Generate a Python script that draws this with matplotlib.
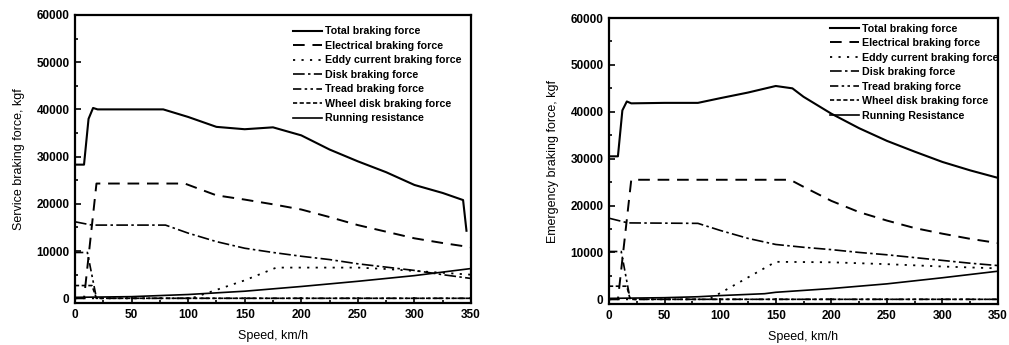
import matplotlib
matplotlib.use('Agg')
import matplotlib.pyplot as plt
from matplotlib.ticker import MultipleLocator

plt.rcParams['font.family'] = ['Liberation Sans', 'DejaVu Sans']

# ---------------------------------------------------------------------------
# Data (speed in km/h, force in kgf)
# ---------------------------------------------------------------------------

labels_service = ["Total braking force", "Electrical braking force",
                  "Eddy current braking force", "Disk braking force",
                  "Tread braking force", "Wheel disk braking force",
                  "Running resistance"]
labels_emergency = labels_service[:-1] + ["Running Resistance"]

# service braking
sv_total_x = [0, 8, 12, 16, 20, 50, 78, 100, 125, 150, 175, 200, 225, 250, 275, 300, 325, 343, 346]
sv_total_y = [28300, 28300, 38000, 40300, 40000, 40000, 40000, 38400, 36300, 35800, 36200, 34500,
              31500, 29000, 26700, 24000, 22300, 20800, 14300]
sv_elec_x = [0, 8, 19, 97, 125, 150, 175, 200, 225, 250, 275, 300, 325, 350]
sv_elec_y = [0, 0, 24300, 24300, 21800, 20900, 19900, 18800, 17200, 15500, 14100, 12700, 11700, 10800]
sv_eddy_x = [0, 103, 150, 178, 250, 275, 300, 325, 350]
sv_eddy_y = [0, 0, 3800, 6500, 6500, 6200, 5800, 5400, 5000]
sv_disk_x = [0, 15, 80, 100, 125, 150, 175, 200, 225, 250, 275, 300, 325, 350]
sv_disk_y = [16200, 15500, 15500, 13800, 12000, 10600, 9700, 8900, 8200, 7300, 6600, 5900, 5000, 4200]
sv_tread_x = [0, 11, 19, 350]
sv_tread_y = [9700, 9700, 0, 0]
sv_wheel_x = [0, 15, 19, 350]
sv_wheel_y = [2700, 2700, 0, 0]
sv_run_x = [0, 50, 100, 150, 200, 250, 300, 350]
sv_run_y = [200, 350, 800, 1500, 2500, 3600, 4800, 6300]

# emergency braking
em_total_x = [0, 8, 12, 16, 20, 50, 80, 100, 125, 150, 165, 175, 200, 225, 250, 275, 300, 325, 350]
em_total_y = [30500, 30500, 40300, 42200, 41800, 41900, 41900, 42900, 44100, 45500, 45000, 43200,
              39600, 36500, 33800, 31500, 29300, 27500, 25900]
em_elec_x = [0, 8, 20, 163, 175, 200, 225, 250, 275, 300, 325, 350]
em_elec_y = [0, 0, 25500, 25500, 24000, 21000, 18600, 16800, 15200, 14000, 12900, 12000]
em_eddy_x = [0, 90, 150, 200, 250, 300, 350]
em_eddy_y = [0, 0, 8000, 7900, 7500, 7000, 6600]
em_disk_x = [0, 17, 80, 100, 125, 150, 175, 200, 225, 250, 275, 300, 325, 350]
em_disk_y = [17300, 16300, 16200, 14700, 13000, 11700, 11100, 10600, 10000, 9500, 8900, 8300, 7700, 7200]
em_tread_x = [0, 11, 19, 350]
em_tread_y = [10200, 10200, 0, 0]
em_wheel_x = [0, 16, 19, 350]
em_wheel_y = [2800, 2800, 0, 0]
em_run_x = [0, 50, 80, 100, 140, 150, 200, 250, 300, 350]
em_run_y = [200, 350, 550, 800, 1200, 1500, 2300, 3300, 4600, 6000]

# ---------------------------------------------------------------------------
# Styles
# ---------------------------------------------------------------------------

styles = [
    dict(ls='-', lw=1.5),
    dict(ls=(0, (6, 4)), lw=1.4),
    dict(ls=(0, (1.2, 3.5)), lw=1.3),
    dict(ls=(0, (7, 2, 1.5, 2)), lw=1.2),
    dict(ls=(0, (5, 2, 1.5, 2, 1.5, 2)), lw=1.2),
    dict(ls=(0, (2.5, 1.5)), lw=1.2),
    dict(ls='-', lw=1.2),
]


def draw_panel(ax, series, labels, ylabel, legend_anchor):
    for (x, y), lab, st in zip(series, labels, styles):
        ax.plot(x, y, color='black', label=lab, **st)
    ax.set_xlim(0, 350)
    ax.set_ylim(-1000, 60000)
    ax.xaxis.set_major_locator(MultipleLocator(50))
    ax.xaxis.set_minor_locator(MultipleLocator(25))
    ax.yaxis.set_major_locator(MultipleLocator(10000))
    ax.yaxis.set_minor_locator(MultipleLocator(5000))
    ax.tick_params(which='both', direction='in', width=1.2)
    ax.tick_params(which='major', length=4, labelsize=8.5, pad=4)
    ax.tick_params(which='minor', length=2.5)
    for t in ax.get_xticklabels() + ax.get_yticklabels():
        t.set_fontweight('bold')
    for sp in ax.spines.values():
        sp.set_linewidth(1.6)
    ax.set_xlabel("Speed, km/h", fontsize=9, labelpad=7)
    ax.set_ylabel(ylabel, fontsize=9, labelpad=8)
    ax.legend(loc='upper left', bbox_to_anchor=legend_anchor, frameon=False,
              prop=dict(size=7.7, weight='bold'), handlelength=2.7,
              handletextpad=0.3, labelspacing=0.42, borderpad=0,
              borderaxespad=0)


fig = plt.figure(figsize=(10.09, 3.45), dpi=100)
ax1 = fig.add_axes([0.0743, 0.1217, 0.3925, 0.835])
ax2 = fig.add_axes([0.6036, 0.1188, 0.3855, 0.829])

service = [(sv_total_x, sv_total_y), (sv_elec_x, sv_elec_y), (sv_eddy_x, sv_eddy_y),
           (sv_disk_x, sv_disk_y), (sv_tread_x, sv_tread_y), (sv_wheel_x, sv_wheel_y),
           (sv_run_x, sv_run_y)]
emergency = [(em_total_x, em_total_y), (em_elec_x, em_elec_y), (em_eddy_x, em_eddy_y),
             (em_disk_x, em_disk_y), (em_tread_x, em_tread_y), (em_wheel_x, em_wheel_y),
             (em_run_x, em_run_y)]

draw_panel(ax1, service, labels_service, "Service braking force, kgf", (0.55, 0.96))
draw_panel(ax2, emergency, labels_emergency, "Emergency braking force, kgf", (0.568, 0.98))

fig.savefig("out.png", dpi=100)
